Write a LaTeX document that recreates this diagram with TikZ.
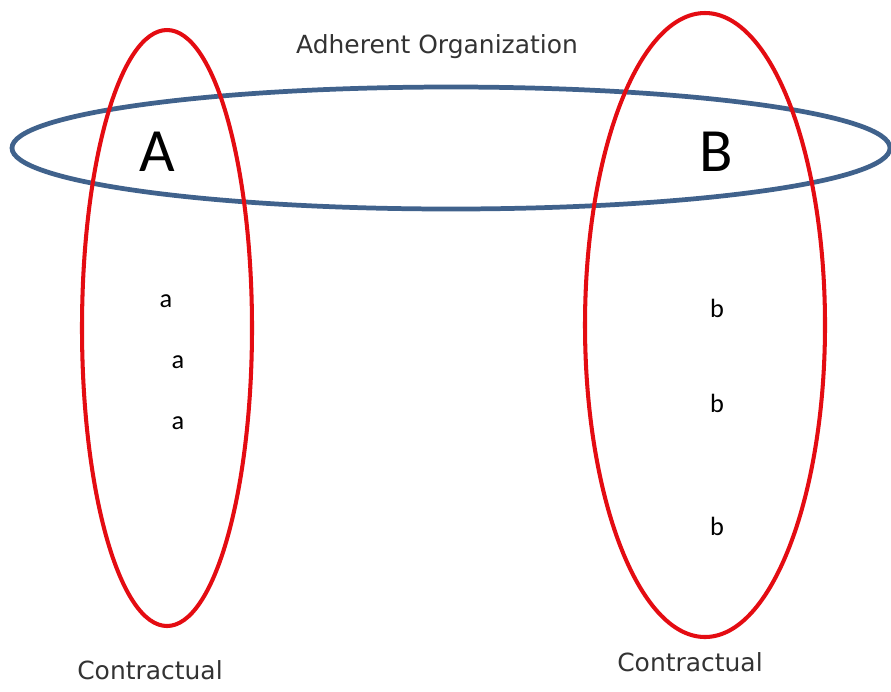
\documentclass[tikz,border=0pt]{standalone}
\usepackage{fontspec}
\setmainfont{Carlito}
\newfontfamily\capfont{DejaVu Sans}
\usetikzlibrary{positioning}
\definecolor{ringred}{RGB}{228,12,18}
\definecolor{ringblue}{RGB}{64,98,140}
\begin{document}
\begin{tikzpicture}[x=0.02cm, y=-0.02cm,
      redring/.style={draw=ringred, line width=2.3pt},
      bluering/.style={draw=ringblue, line width=2.7pt},
      caption/.style={font=\capfont\fontsize{14.2}{17}\selectfont, text=black!80, inner sep=0pt},
      party/.style={font=\fontsize{35}{40}\selectfont, inner sep=0pt},
      member/.style={font=\fontsize{15}{18}\selectfont, inner sep=0pt}]
    \useasboundingbox[fill=white] (0,0) rectangle (891,691);
    % ----- the adherent organization
    \draw[bluering] (451,148) ellipse [x radius=439, y radius=61];
    \node[caption] (adh) at (437,47) {Adherent Organization};
    % ----- contractual group A
    \draw[redring] (167,328) ellipse [x radius=85, y radius=298];
    \node[party] (A) at (157,152) {A};
    \node[member] (a1) at (166,301) {a};
    \node[member] (a2) at (178,362) {a};
    \node[member] (a3) at (178,423) {a};
    \node[caption] (conA) at (150,670) {Contractual};
    % ----- contractual group B
    \draw[redring] (705,325) ellipse [x radius=120, y radius=312];
    \node[party] (B) at (716,152) {B};
    \node[member] (b1) at (717,308) {b};
    \node[member] (b2) at (717,403) {b};
    \node[member] (b3) at (717,526) {b};
    \node[caption] (conB) at (690,662) {Contractual};
  \end{tikzpicture}
\end{document}
